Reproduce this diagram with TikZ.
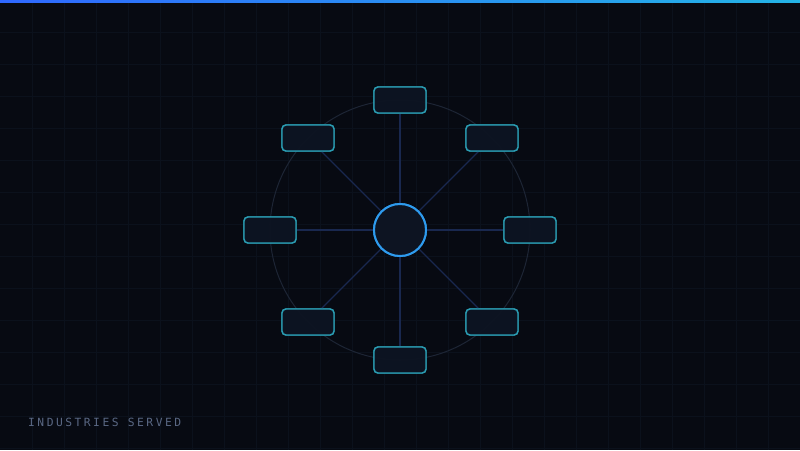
\documentclass[tikz,border=0pt]{standalone}
\usepackage{fontspec}
\newfontfamily\labelmono[LetterSpace=22]{DejaVu Sans Mono}
\definecolor{bg}{HTML}{070A12}
\definecolor{gridc}{HTML}{0B111C}
\definecolor{spoke}{HTML}{19284F}
\definecolor{ringc}{HTML}{1D2535}
\definecolor{boxline}{HTML}{2A9CB2}
\definecolor{boxfill}{HTML}{0D1422}
\definecolor{hubline}{HTML}{2E9BEE}
\definecolor{barl}{HTML}{2F68FF}
\definecolor{barr}{HTML}{24B4E6}
\definecolor{labelc}{HTML}{5A6884}
\tikzset{
  spokeline/.style={draw=spoke, line width=1.3pt},
  sector/.style={draw=boxline, fill=boxfill, line width=1.4pt, rounded corners=4pt,
    minimum width=52pt, minimum height=26pt, inner sep=0pt, fill opacity=0.92},
  hub/.style={circle, draw=hubline, fill=boxfill, line width=2pt, minimum size=52pt, inner sep=0pt},
}
\begin{document}
\begin{tikzpicture}[x=1pt,y=-1pt]
\fill[bg] (0,0) rectangle (800,450);
\useasboundingbox (0,0) rectangle (800,450);
% grid
\foreach \i in {1,...,24} \draw[gridc, line width=0.8pt] (\i*32,0) -- (\i*32,450);
\foreach \j in {1,...,14} \draw[gridc, line width=0.8pt] (0,\j*32) -- (800,\j*32);
% top bar
\shade[left color=barl, right color=barr] (0,0) rectangle (800,2);
% ring
\draw[ringc, line width=1pt] (400,230) circle (130);
% nodes
\node[hub] (hub) at (400,230) {};
\node[sector] (n) at (400,100) {};
\node[sector] (ne) at (492,138) {};
\node[sector] (e) at (530,230) {};
\node[sector] (se) at (492,322) {};
\node[sector] (s) at (400,360) {};
\node[sector] (sw) at (308,322) {};
\node[sector] (w) at (270,230) {};
\node[sector] (nw) at (308,138) {};
% spokes
\foreach \t in {n,ne,e,se,s,sw,w,nw} \draw[spokeline] (hub) -- (\t);
% redraw nodes on top of the ring
\node[hub] at (400,230) {};
\foreach \p in {(400,100),(492,138),(530,230),(492,322),(400,360),(308,322),(270,230),(308,138)}
  \node[sector] at \p {};
\node[anchor=base west, inner sep=0pt, text=labelc, font=\labelmono\fontsize{11.3}{13}\selectfont] (title) at (28,426) {INDUSTRIES SERVED};
\end{tikzpicture}
\end{document}
